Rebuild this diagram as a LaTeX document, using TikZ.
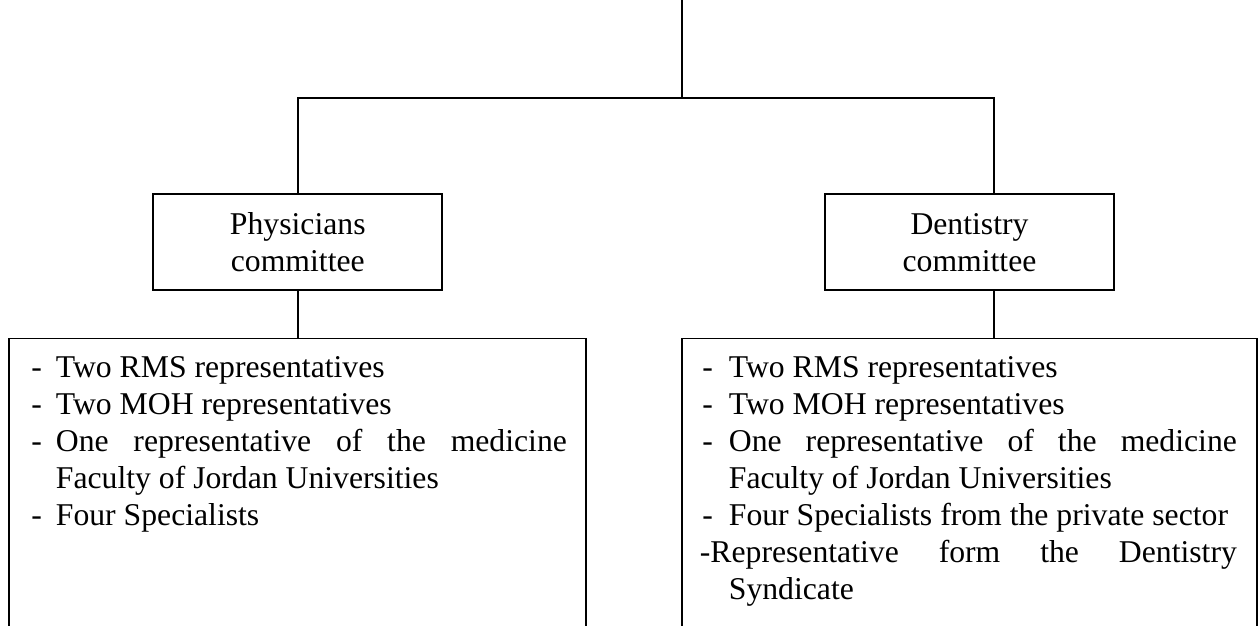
\documentclass[tikz,border=0pt]{standalone}
\usepackage{fontspec}
\setmainfont{Liberation Serif}
\begin{document}
\begin{tikzpicture}[x=1pt,y=-1pt,
  line width=1.8pt,
  every node/.style={inner sep=0pt, font=\fontsize{31.7}{37}\selectfont},
  cbox/.style={draw, minimum width=289pt, minimum height=95.7pt, align=center},
  item/.style={anchor=base west}]
\clip (0,0) rectangle (1259,625);
\fill[white] (0,0) rectangle (1259,625);

% committee boxes
\node[cbox] (phys) at (297.8,242.2) {Physicians\\committee};
\node[cbox] (dent) at (969.5,242.2) {Dentistry\\committee};

% branch coordinates
\coordinate (top) at (681.7,-5);
\coordinate (hub) at (681.7,98);
\coordinate (lbr) at (297.8,98);
\coordinate (rbr) at (993.7,98);
\coordinate (L1) at (9,640);
\coordinate (L2) at (9,338.5);
\coordinate (L3) at (585.7,338.5);
\coordinate (L4) at (585.7,640);
\coordinate (R1) at (681.7,640);
\coordinate (R2) at (681.7,338.5);
\coordinate (R3) at (1256.7,338.5);
\coordinate (R4) at (1256.7,640);

% connectors
\draw (top) -- (hub);
\draw (phys.north) -- (lbr) -- (rbr) -- (rbr |- dent.north);
\draw (phys.south) -- (phys.south |- L2);
\draw (dent.south -| rbr) -- (rbr |- R2);

% open-bottom member boxes
\draw (L1) -- (L2) -- (L3) -- (L4);
\draw (R1) -- (R2) -- (R3) -- (R4);

% left list
\node[item] (l1d) at (30.5,377) {-};
\node[item] (l1) at (55,377) {Two RMS representatives};
\node[item] (l2d) at (30.5,414) {-};
\node[item] (l2) at (55,414) {Two MOH representatives};
\node[item] (l3d) at (30.5,451) {-};
\node[item] (l3) at (55,451) {\makebox[511pt][s]{One representative of the medicine}};
\node[item] (l4) at (55,488) {Faculty of Jordan Universities};
\node[item] (l5d) at (30.5,525) {-};
\node[item] (l5) at (55,525) {Four Specialists};

% right list
\node[item] (r1d) at (701.5,377) {-};
\node[item] (r1) at (728,377) {Two RMS representatives};
\node[item] (r2d) at (701.5,414) {-};
\node[item] (r2) at (728,414) {Two MOH representatives};
\node[item] (r3d) at (701.5,451) {-};
\node[item] (r3) at (728,451) {\makebox[508pt][s]{One representative of the medicine}};
\node[item] (r4) at (728,488) {Faculty of Jordan Universities};
\node[item] (r5d) at (701.5,525) {-};
\node[item] (r5) at (728,525) {Four Specialists from the private sector};
\node[item] (r6) at (699,562) {\makebox[537pt][s]{-Representative form the Dentistry}};
\node[item] (r7) at (728,599) {Syndicate};
\end{tikzpicture}
\end{document}
